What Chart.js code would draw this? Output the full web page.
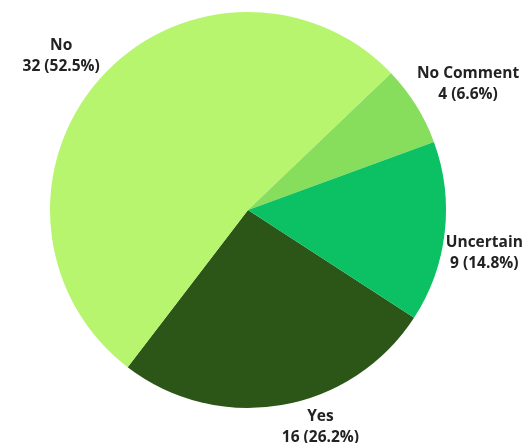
<!DOCTYPE html>
<html>
<head>
<meta charset="utf-8">
<script src="https://cdn.jsdelivr.net/npm/chart.js@4/dist/chart.umd.min.js"></script>
<style>
  html, body { margin: 0; padding: 0; background: #ffffff; }
  #wrap { width: 532px; height: 443px; position: relative; }
</style>
</head>
<body>
<div id="wrap"><canvas id="c"></canvas></div>
<script>
const categories = ["Yes", "No", "No Comment", "Uncertain"];
const counts = [16, 32, 4, 9];
const sliceColors = ["#2c5518", "#b8f56f", "#86de5c", "#0bc163"];

const total = counts.reduce((a, b) => a + b, 0);

const outLabels = {
  id: 'outLabels',
  afterDatasetsDraw(chart) {
    const ctx = chart.ctx;
    const meta = chart.getDatasetMeta(0);
    ctx.save();
    ctx.font = 'bold 15.5px "Open Sans", "DejaVu Sans", sans-serif';
    ctx.fillStyle = '#222222';
    ctx.textBaseline = 'middle';
    const lh = 21;
    meta.data.forEach((arc, i) => {
      const p = arc.getProps(['x', 'y', 'startAngle', 'endAngle', 'outerRadius'], true);
      const mid = (p.startAngle + p.endAngle) / 2;
      const c = Math.cos(mid), s = Math.sin(mid);
      const r = p.outerRadius + 1;
      const ax = p.x + r * c, ay = p.y + r * s;
      const l1 = categories[i];
      const l2 = counts[i] + ' (' + (counts[i] / total * 100).toFixed(1) + '%)';
      const w = Math.max(ctx.measureText(l1).width, ctx.measureText(l2).width);
      const h = lh * 2;
      const left = c >= 0 ? ax : ax - w;
      const top = s >= 0 ? ay : ay - h;
      ctx.textAlign = 'center';
      const cx = left + w / 2;
      ctx.fillText(l1, cx, top + lh / 2);
      ctx.fillText(l2, cx, top + lh * 1.5);
    });
    ctx.restore();
  }
};

new Chart(document.getElementById('c'), {
  type: 'pie',
  data: {
    labels: categories,
    datasets: [{
      data: counts,
      backgroundColor: sliceColors,
      borderWidth: 0
    }]
  },
  options: {
    responsive: true,
    maintainAspectRatio: false,
    animation: false,
    rotation: 123,
    layout: { padding: { left: 50, right: 86, top: 12, bottom: 35 } },
    plugins: {
      legend: { display: false },
      tooltip: { enabled: false }
    }
  },
  plugins: [outLabels]
});
</script>
</body>
</html>
